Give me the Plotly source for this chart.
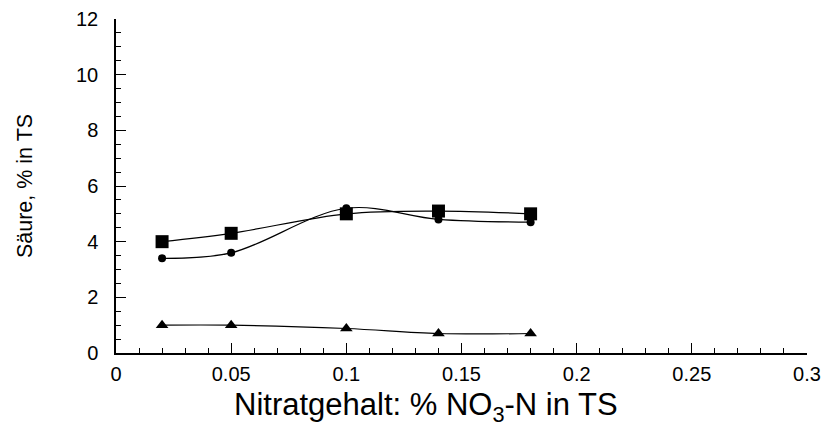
import plotly.graph_objects as go

x_vals = [0.02, 0.05, 0.1, 0.14, 0.18]
squares = [4.0, 4.3, 5.0, 5.1, 5.0]
circles = [3.4, 3.6, 5.2, 4.8, 4.7]
triangles = [1.0, 1.0, 0.88, 0.7, 0.7]

x_tickvals = [0, 0.05, 0.1, 0.15, 0.2, 0.25, 0.3]
x_ticktext = ["0", "0.05", "0.1", "0.15", "0.2", "0.25", "0.3"]
y_tickvals = [0, 2, 4, 6, 8, 10, 12]

x_title = "Nitratgehalt: % NO<sub>3</sub>-N in TS"
y_title = "Säure, % in TS"

font = "Liberation Sans"

fig = go.Figure()
for vals, sym, size in [(squares, "square", 13), (circles, "circle", 8), (triangles, "triangle-up", 11)]:
    fig.add_trace(go.Scatter(
        x=x_vals, y=vals, mode="lines+markers",
        line=dict(color="black", width=1.2, shape="spline", smoothing=1.0),
        marker=dict(symbol=sym, size=size, color="black"),
        showlegend=False, cliponaxis=False,
    ))

fig.add_annotation(
    text=x_title, xref="paper", yref="paper", x=0.448, y=-0.163,
    xanchor="center", yanchor="middle", showarrow=False, borderpad=0,
    font=dict(family=font, size=31, color="black"),
)

fig.update_layout(
    template="none",
    width=824, height=427,
    margin=dict(l=116, r=17, t=19, b=74),
    plot_bgcolor="white", paper_bgcolor="white",
    font=dict(family=font, color="black", size=20),
    xaxis=dict(
        range=[0, 0.3], tickvals=x_tickvals, ticktext=x_ticktext,
        showgrid=False, zeroline=False, showline=True, linecolor="black", linewidth=1.5,
        ticks="inside", ticklen=10, tickwidth=1, tickcolor="black",
        minor=dict(dtick=0.01, ticks="inside", ticklen=5, tickwidth=1, tickcolor="black", showgrid=False),
        tickfont=dict(family=font, size=20, color="black"),
        ticklabelstandoff=2,
    ),
    yaxis=dict(
        range=[0, 12], tickvals=y_tickvals,
        showgrid=False, zeroline=False, showline=True, linecolor="black", linewidth=1.5,
        ticks="inside", ticklen=10, tickwidth=1, tickcolor="black",
        minor=dict(dtick=0.5, ticks="inside", ticklen=5, tickwidth=1, tickcolor="black", showgrid=False),
        tickfont=dict(family=font, size=20, color="black"),
        ticklabelstandoff=12,
        title=dict(text=y_title, font=dict(family=font, size=21.5, color="black"), standoff=37),
    ),
)

fig.write_html("out.html")
